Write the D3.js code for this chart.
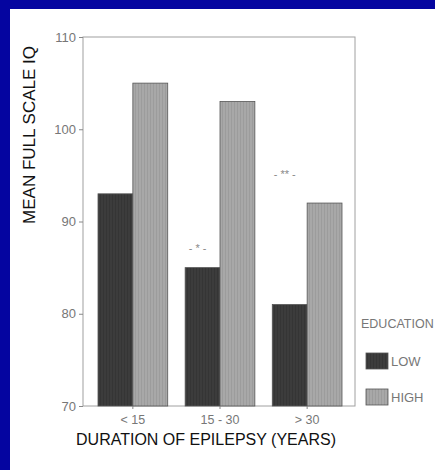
<!DOCTYPE html>
<html><head><meta charset="utf-8">
<script src="https://cdn.jsdelivr.net/npm/d3@7"></script>
<style>html,body{margin:0;padding:0;background:#fff;}svg{display:block;}</style>
</head><body>
<svg id="chart" width="435" height="470"></svg>
<script>
const categories = ["< 15", "15 - 30", "> 30"];
const seriesNames = ["LOW", "HIGH"];
const lowValues = [93, 85, 81];
const highValues = [105, 103, 92];
const yTicks = [70, 80, 90, 100, 110];
const annotations = ["", "- * -", "- ** -"];
const annotationLevels = [null, 87, 95];

const svg = d3.select("#chart");
// blue frame
svg.append("rect").attr("x",0).attr("y",0).attr("width",435).attr("height",470).attr("fill","#0505a0");
svg.append("rect").attr("x",10).attr("y",9).attr("width",425).attr("height",461).attr("fill","#ffffff");

const defs = svg.append("defs");
const pat = defs.append("pattern").attr("id","stripe").attr("patternUnits","userSpaceOnUse")
  .attr("width",3).attr("height",4);
pat.append("rect").attr("width",3).attr("height",4).attr("fill","#a8a8a8");
pat.append("rect").attr("x",0).attr("width",1).attr("height",4).attr("fill","#9c9c9c");
const pat2 = defs.append("pattern").attr("id","dark").attr("patternUnits","userSpaceOnUse")
  .attr("width",3).attr("height",3);
pat2.append("rect").attr("width",3).attr("height",3).attr("fill","#3c3c3c");
pat2.append("rect").attr("x",1).attr("width",1).attr("height",3).attr("fill","#353535");

const L = 83, R = 355, T = 37, B = 406;
const font = "Arial, 'Liberation Sans', sans-serif";
const y = d3.scaleLinear().domain([70,110]).range([B,T]);
const x0 = d3.scaleBand().domain(categories).range([98,342]).paddingInner(0.2).paddingOuter(0);
const x1 = d3.scaleBand().domain(seriesNames).range([0,x0.bandwidth()]);
const fills = {LOW:"url(#dark)", HIGH:"url(#stripe)"};

// frame
svg.append("rect").attr("x",L).attr("y",T).attr("width",R-L).attr("height",B-T)
  .attr("fill","none").attr("stroke","#a0a0a0").attr("stroke-width",1);

// bars
const data = categories.map((c,i)=>({cat:c, vals:[{s:"LOW",v:lowValues[i]},{s:"HIGH",v:highValues[i]}]}));
const g = svg.append("g");
data.forEach(d=>{
  g.selectAll(null).data(d.vals).enter().append("rect")
    .attr("x", e=>x0(d.cat)+x1(e.s))
    .attr("y", e=>y(e.v))
    .attr("width", x1.bandwidth())
    .attr("height", e=>y(70)-y(e.v))
    .attr("fill", e=>fills[e.s])
    .attr("stroke","#555").attr("stroke-width",0.8);
});

// y axis
const yAxis = d3.axisLeft(y).tickValues(yTicks).tickSize(4).tickPadding(3);
const ya = svg.append("g").attr("transform",`translate(${L},0)`).call(yAxis);
ya.select(".domain").remove();
ya.selectAll("line").attr("stroke","#888");
ya.selectAll("text").attr("fill","#777").attr("font-family",font).attr("font-size",13);

// x axis
const xAxis = d3.axisBottom(x0).tickSize(3).tickPadding(6);
const xa = svg.append("g").attr("transform",`translate(0,${B})`).call(xAxis);
xa.select(".domain").remove();
xa.selectAll("line").attr("stroke","#888");
xa.selectAll("text").attr("fill","#777").attr("font-family",font).attr("font-size",12.5);

// annotations
categories.forEach((c,i)=>{
  if(!annotations[i]) return;
  svg.append("text").attr("x", x0(c)+x1("LOW")+x1.bandwidth()/2 - 5).attr("y", y(annotationLevels[i]) + 3)
    .attr("text-anchor","middle").attr("fill","#888")
    .attr("font-family",font).attr("font-size",11)
    .attr("xml:space","preserve").text(annotations[i]);
});

// axis titles
svg.append("text").attr("transform",`translate(35,135) rotate(-90)`)
  .attr("text-anchor","middle").attr("fill","#111")
  .attr("font-family",font).attr("font-size",17)
  .text("MEAN FULL SCALE IQ");
svg.append("text").attr("x",206).attr("y",445)
  .attr("text-anchor","middle").attr("fill","#111")
  .attr("font-family",font).attr("font-size",16)
  .text("DURATION OF EPILEPSY (YEARS)");

// legend
svg.append("text").attr("x",361).attr("y",328).attr("fill","#777")
  .attr("font-family",font).attr("font-size",12.5)
  .text("EDUCATION");
const lg = svg.append("g");
seriesNames.forEach((s,i)=>{
  const yy = 353 + i*36;
  lg.append("rect").attr("x",366).attr("y",yy).attr("width",22).attr("height",16)
    .attr("fill",fills[s]).attr("stroke","#555").attr("stroke-width",0.8);
  lg.append("text").attr("x",391).attr("y",yy+13).attr("fill","#777")
    .attr("font-family",font).attr("font-size",13)
    .text(s);
});
</script>
</body></html>
